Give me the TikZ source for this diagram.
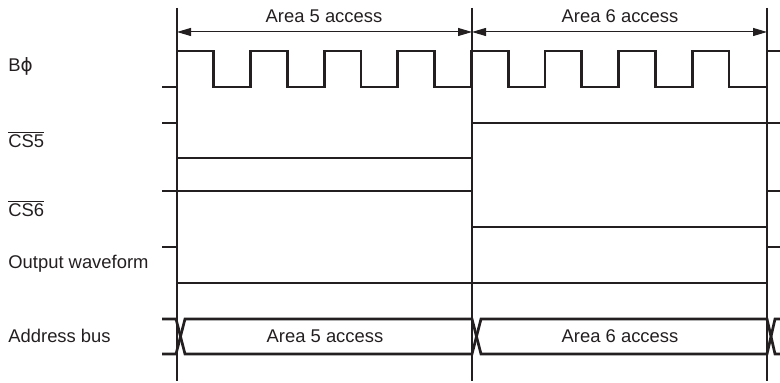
\documentclass[tikz,border=0pt]{standalone}
\usepackage{fontspec}
\setmainfont{Liberation Sans}
\newfontfamily\symfont{DejaVu Sans}
\usepackage{tikz}
\usetikzlibrary{arrows.meta,positioning,calc}
\definecolor{ink}{RGB}{35,31,32}

\begin{document}
\begin{tikzpicture}[
  x=0.5pt, y=-0.5pt,
  every node/.style={font=\fontsize{9.2}{11}\selectfont, text=ink, inner sep=0pt},
  lbl/.style={anchor=base west},
  sig/.style={draw=ink, line width=1.35pt, line join=miter},
  guide/.style={draw=ink, line width=0.55pt},
  dim/.style={draw=ink, line width=0.5pt, {Triangle[length=7pt,width=4pt]}-{Triangle[length=7pt,width=4pt]}}
]
\useasboundingbox (0,0) rectangle (780,383);

% signals first, guide lines on top
% clock
\draw[sig] (162,87) \foreach \k in {0,...,7}{
  -- ({177+73.6*\k},87) -- ({177+73.6*\k},51)
  -- ({213.8+73.6*\k},51) -- ({213.8+73.6*\k},87) }
  -- (767,87) -- (767,51) -- (780,51);

% chip selects
\draw[sig] (162,123) -- (177,123) -- (177,158) -- (472,158) -- (472,123) -- (780,123);
\draw[sig] (162,191) -- (472,191) -- (472,227) -- (767,227) -- (767,191) -- (780,191);

% output waveform
\draw[sig] (162,247) -- (177,247) -- (177,283) -- (767,283) -- (767,247) -- (780,247);

% address bus
\draw[sig] (162,319) -- (176,319) -- (185,354) -- (472,354) -- (481,319) -- (767,319) -- (775,354) -- (780,354);
\draw[sig] (162,354) -- (176,354) -- (185,319) -- (472,319) -- (481,354) -- (767,354) -- (775,319) -- (780,319);
\node[anchor=base] (bus5) at (325,343) {Area 5 access};
\node[anchor=base] (bus6) at (620,343) {Area 6 access};

% guide lines at the access boundaries
\coordinate (t0) at (177,8);   \coordinate (b0) at (177,381);
\coordinate (t1) at (472,8);   \coordinate (b1) at (472,381);
\coordinate (t2) at (767,8);   \coordinate (b2) at (767,381);
\draw[guide] (t0) -- (b0);
\draw[guide] (t1) -- (b1);
\draw[guide] (t2) -- (b2);

% access periods
\coordinate (a0) at (177,32);
\coordinate (a1) at (472,32);
\coordinate (a2) at (767,32);
\draw[dim] (a0) -- (a1);
\draw[dim] (a1) -- (a2);
\node[anchor=base] (acc5) at (324,23) {Area 5 access};
\node[anchor=base] (acc6) at (620,23) {Area 6 access};

% signal names
\node[lbl] (bphi) at (8,72) {B{\symfont\fontsize{9.2}{11}\selectfont ϕ}};
\node[lbl] (cs5) at (8,148) {$\overline{\mbox{CS5}}$};
\node[lbl] (cs6) at (8,217) {$\overline{\mbox{CS6}}$};
\node[lbl] (outw) at (8,269) {Output waveform};
\node[lbl] (abus) at (8,343) {Address bus};
\end{tikzpicture}
\end{document}
